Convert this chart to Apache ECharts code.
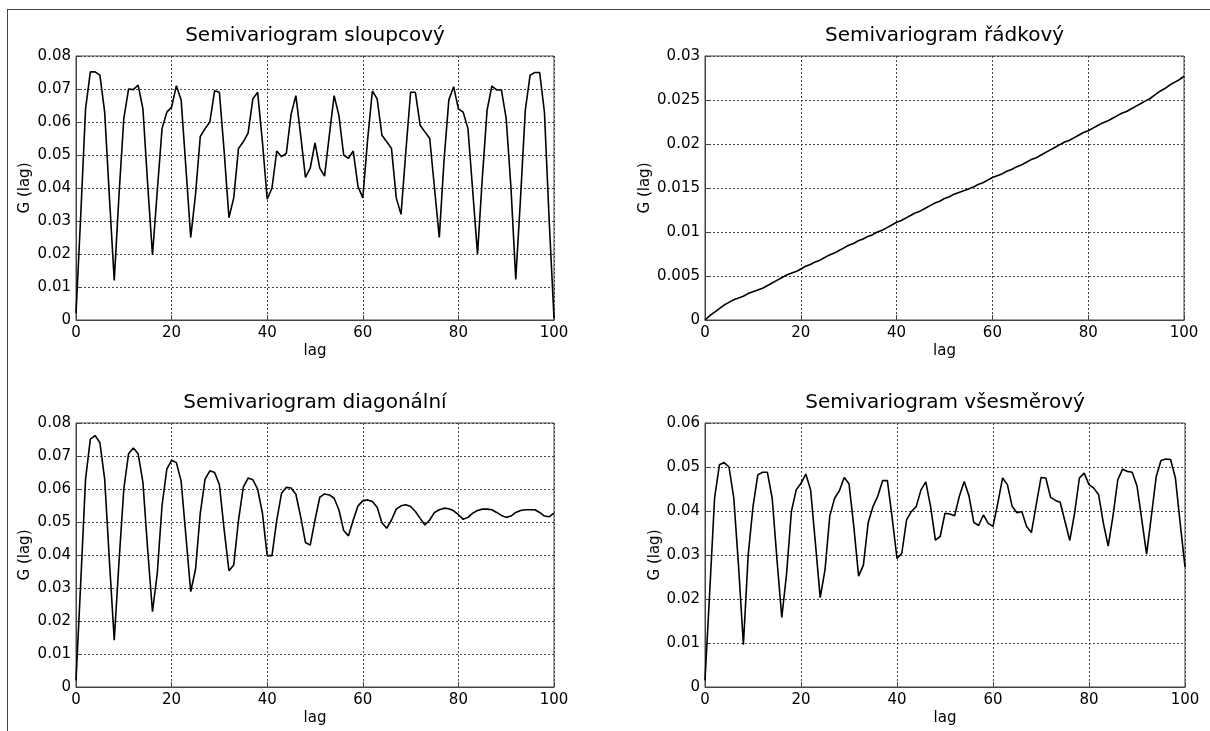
<!DOCTYPE html>
<html>
<head>
<meta charset="utf-8">
<script src="https://cdn.jsdelivr.net/npm/echarts@6/dist/echarts.min.js"></script>
<style>
html,body{margin:0;padding:0;background:#fff;}
#frame{position:absolute;left:7px;top:9px;width:1203px;height:722px;border-top:1px solid #444;border-left:1px solid #444;box-sizing:border-box;}
#chart{position:absolute;left:0;top:0;width:1210px;height:731px;}
</style>
</head>
<body>
<div id="frame"></div>
<div id="chart"></div>
<script>
const lags = Array.from({length:101},(_,i)=>i);

const titles = ['Semivariogram sloupcový','Semivariogram řádkový','Semivariogram diagonální','Semivariogram všesměrový'];

const sloupcovy = [0.002,0.032,0.064,0.0752,0.0752,0.0742,0.063,0.037,0.012,0.038,
0.061,0.070,0.0698,0.0712,0.064,0.041,0.0197,0.039,0.058,0.063,
0.0645,0.071,0.0667,0.046,0.025,0.038,0.0556,0.058,0.060,0.0695,
0.069,0.051,0.031,0.037,0.052,0.054,0.0566,0.067,0.069,0.054,
0.0366,0.040,0.0512,0.0495,0.0505,0.0624,0.068,0.056,0.0432,0.046,
0.0537,0.046,0.0436,0.056,0.068,0.062,0.050,0.049,0.0512,0.0404,
0.037,0.0545,0.0694,0.067,0.056,0.054,0.052,0.037,0.032,0.051,
0.069,0.069,0.059,0.057,0.055,0.040,0.025,0.0485,0.0667,0.0707,
0.064,0.063,0.058,0.039,0.020,0.043,0.0636,0.0709,0.0697,0.0697,
0.061,0.040,0.0123,0.037,0.0636,0.0742,0.075,0.075,0.063,0.030,0.0005];

const radkovy = [0,0.0005,0.0009,0.0013,0.0017,0.0020,0.0023,0.0025,0.0027,0.0030,
0.0032,0.0034,0.0036,0.0039,0.0042,0.0045,0.0048,0.0051,0.0053,0.0055,
0.0058,0.0061,0.0063,0.0066,0.0068,0.0071,0.0074,0.0076,0.0079,0.0082,
0.0085,0.0087,0.0090,0.0092,0.0095,0.0097,0.0100,0.0102,0.0105,0.0108,
0.0111,0.0113,0.0116,0.0119,0.0122,0.0124,0.0127,0.0130,0.0133,0.0135,
0.0138,0.0140,0.0143,0.0145,0.0147,0.0149,0.0151,0.0154,0.0156,0.0159,
0.0162,0.0164,0.0166,0.0169,0.0171,0.0174,0.0176,0.0179,0.0182,0.0184,
0.0187,0.0190,0.0193,0.0196,0.0199,0.0202,0.0204,0.0207,0.0210,0.0213,
0.0215,0.0218,0.0221,0.0224,0.0226,0.0229,0.0232,0.0235,0.0237,0.0240,
0.0243,0.0246,0.0249,0.0252,0.0256,0.0260,0.0263,0.0267,0.0270,0.0273,0.0277];

const diagonalni = [0.002,0.032,0.063,0.0751,0.0762,0.074,0.063,0.038,0.0142,0.038,
0.060,0.0707,0.0724,0.0707,0.062,0.0415,0.0228,0.0344,0.055,0.066,
0.0687,0.068,0.0623,0.0456,0.0289,0.0356,0.0527,0.063,0.0655,0.065,
0.0613,0.0476,0.0352,0.037,0.0506,0.0606,0.0633,0.0628,0.060,0.0527,
0.0398,0.0398,0.0506,0.0587,0.0605,0.0603,0.0584,0.0516,0.0438,0.043,
0.0506,0.0575,0.0585,0.0582,0.0572,0.0537,0.0474,0.0458,0.0506,0.0549,
0.0564,0.0567,0.0562,0.0545,0.0498,0.0481,0.0506,0.0539,0.0549,0.0552,
0.0547,0.0532,0.0511,0.0491,0.0506,0.0529,0.0537,0.0542,0.054,0.0534,
0.0522,0.0508,0.0514,0.0527,0.0535,0.0539,0.0539,0.0537,0.0529,0.052,
0.0514,0.0518,0.0529,0.0535,0.0537,0.0537,0.0537,0.0529,0.0518,0.0516,0.0527];

const vsesmerovy = [0.0015,0.022,0.043,0.0505,0.051,0.050,0.0429,0.0273,0.0096,0.030,
0.041,0.0482,0.0488,0.0488,0.0429,0.0289,0.0158,0.0258,0.0399,0.0448,
0.0463,0.0484,0.0448,0.0327,0.0203,0.0266,0.0389,0.0429,0.0446,0.0476,
0.0462,0.0365,0.0252,0.0277,0.0374,0.041,0.0434,0.0469,0.0469,0.0384,
0.0292,0.0304,0.038,0.0399,0.041,0.0448,0.0466,0.041,0.0334,0.0342,
0.0395,0.0393,0.0389,0.0434,0.0467,0.0434,0.0374,0.0367,0.0391,0.0372,
0.0365,0.0418,0.0475,0.046,0.041,0.0396,0.0399,0.0365,0.0351,0.0414,
0.0476,0.0475,0.0431,0.0424,0.042,0.0376,0.0333,0.0395,0.0475,0.0486,
0.046,0.0452,0.0437,0.0372,0.032,0.0389,0.0471,0.0495,0.049,0.0488,
0.0457,0.038,0.0302,0.0389,0.0478,0.0515,0.0518,0.0517,0.0475,0.0372,0.0273];

const yMax = [0.08, 0.03, 0.08, 0.06];
const yStep = [0.01, 0.005, 0.01, 0.01];
const xTicks = [0,20,40,60,80,100];
const xName = 'lag';
const yName = 'G (lag)';
const seriesData = [sloupcovy, radkovy, diagonalni, vsesmerovy];

const FONT = '"DejaVu Sans", Verdana, sans-serif';
const grids = [
  {left:76, top:56, width:478, height:264},
  {left:705, top:56, width:479, height:264},
  {left:76, top:423, width:478, height:264},
  {left:705, top:423, width:480, height:264}
];
const yNameGap = [43, 52, 43, 39];

const chart = echarts.init(document.getElementById('chart'), null, {renderer:'canvas'});
const option = {
  animation:false,
  backgroundColor:'transparent',
  title: grids.map((g,i)=>({
    text: titles[i],
    left: g.left + g.width/2,
    top: g.top - 30,
    textAlign:'center',
    padding:0,
    textStyle:{fontFamily:FONT,fontSize:20,fontWeight:'normal',color:'#000'}
  })),
  grid: grids.map(g=>Object.assign({show:true,borderColor:'#444',borderWidth:1,backgroundColor:'#fff',containLabel:false},g)),
  xAxis: grids.map((g,i)=>({
    type:'value', gridIndex:i, min:0, max:100, interval:20,
    name:xName, nameLocation:'middle', nameGap:24,
    nameTextStyle:{fontFamily:FONT,fontSize:15,color:'#000'},
    axisLine:{show:true,lineStyle:{color:'#444',width:1}},
    axisTick:{show:true,inside:true,length:5,lineStyle:{color:'#444'}},
    axisLabel:{fontFamily:FONT,fontSize:15,color:'#000',margin:6,
      formatter:v=>String(v)},
    splitLine:{show:true,lineStyle:{color:'#444',type:[2,2],width:1}}
  })),
  yAxis: grids.map((g,i)=>({
    type:'value', gridIndex:i, min:0, max:yMax[i], interval:yStep[i],
    name:yName, nameLocation:'middle', nameGap:yNameGap[i], nameRotate:90,
    nameTextStyle:{fontFamily:FONT,fontSize:15,color:'#000'},
    axisLine:{show:true,lineStyle:{color:'#444',width:1}},
    axisTick:{show:true,inside:true,length:5,lineStyle:{color:'#444'}},
    axisLabel:{fontFamily:FONT,fontSize:15,color:'#000',margin:5,
      formatter:v=>v===0?'0':String(parseFloat(v.toFixed(4)))},
    splitLine:{show:true,lineStyle:{color:'#444',type:[2,2],width:1}}
  })),
  series: seriesData.map((d,i)=>({
    type:'line', xAxisIndex:i, yAxisIndex:i,
    data: lags.map((x,j)=>[x,d[j]]),
    showSymbol:false, symbol:'none',
    lineStyle:{color:'#000',width:1.6},
    clip:true
  }))
};
chart.setOption(option);
</script>
</body>
</html>
